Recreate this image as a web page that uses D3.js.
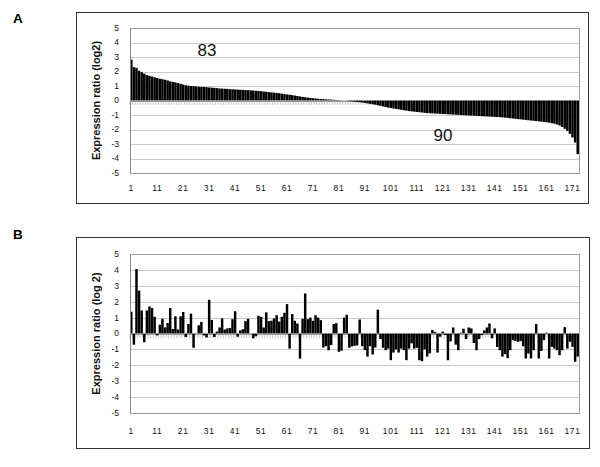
<!DOCTYPE html>
<html><head><meta charset="utf-8">
<script src="https://cdn.jsdelivr.net/npm/d3@7"></script>
<style>html,body{margin:0;padding:0;background:#fff;}svg{display:block;}</style>
</head><body>
<script>
const categories = d3.range(1, 174);
const xTickLabels = [1, 11, 21, 31, 41, 51, 61, 71, 81, 91, 101, 111, 121, 131, 141, 151, 161, 171];
const yTicks = [5, 4, 3, 2, 1, 0, -1, -2, -3, -4, -5];
const panelLabels = ["A", "B"];
const yTitles = ["Expression ratio (log2)", "Expression ratio  (log 2)"];
const countLabels = ["83", "90"];

const seriesA = [
  2.82,2.3,2.25,2.05,1.95,1.85,1.75,1.7,1.65,1.6,
  1.55,1.5,1.47,1.43,1.38,1.32,1.28,1.25,1.2,1.15,
  1.1,1.05,1.02,1.0,0.99,0.97,0.95,0.94,0.93,0.92,
  0.9,0.89,0.87,0.85,0.83,0.82,0.81,0.8,0.78,0.77,
  0.76,0.75,0.74,0.73,0.72,0.71,0.7,0.69,0.67,0.66,
  0.64,0.62,0.6,0.58,0.56,0.54,0.52,0.5,0.47,0.44,
  0.42,0.4,0.37,0.34,0.31,0.28,0.25,0.22,0.2,0.18,
  0.16,0.14,0.12,0.11,0.1,0.08,0.07,0.06,0.05,0.04,
  0.03,0.02,0.01,
  -0.02,-0.04,-0.06,-0.08,-0.1,-0.12,-0.14,-0.17,-0.2,-0.23,-0.26,-0.29,-0.33,-0.37,-0.41,-0.45,-0.49,
  -0.52,-0.55,-0.58,-0.61,-0.64,-0.67,-0.7,-0.73,-0.75,-0.77,
  -0.79,-0.81,-0.83,-0.85,-0.87,-0.88,-0.89,-0.9,-0.91,-0.92,
  -0.93,-0.94,-0.95,-0.96,-0.97,-0.98,-0.99,-1.0,-1.01,-1.02,
  -1.03,-1.04,-1.05,-1.06,-1.07,-1.08,-1.09,-1.1,-1.11,-1.12,
  -1.13,-1.14,-1.15,-1.16,-1.18,-1.2,-1.22,-1.24,-1.26,-1.28,
  -1.3,-1.32,-1.34,-1.36,-1.38,-1.4,-1.42,-1.44,-1.46,-1.48,
  -1.5,-1.53,-1.56,-1.6,-1.65,-1.72,-1.82,-1.95,-2.1,-2.3,
  -2.55,-2.9,-3.7
];

const seriesB = [
  1.37,-0.7,4.05,2.7,1.45,-0.55,1.45,1.7,1.6,1.05,
  -0.12,0.55,0.93,0.38,0.66,1.6,0.28,1.08,0.25,1.08,
  1.35,-0.22,0.6,1.25,-0.9,0.02,0.52,0.73,-0.12,-0.25,
  2.12,0.85,-0.22,0.12,0.38,0.95,0.25,0.32,0.35,0.9,
  1.4,-0.2,0.2,0.27,0.78,0.92,0.02,-0.3,-0.17,1.12,
  1.05,0.38,1.33,0.78,0.8,0.95,1.15,0.75,1.05,1.3,
  1.85,-0.95,1.22,0.8,0.63,-1.58,0.92,2.52,0.9,1.0,
  0.8,1.15,1.0,0.84,-0.88,-0.8,-1.05,-0.73,0.6,0.65,
  -1.15,-1.08,1.0,1.18,-0.9,-0.82,-0.78,-0.75,0.88,-0.8,
  -1.05,-1.45,-0.8,-1.32,-0.88,1.5,-0.35,-0.9,-1.05,-0.95,
  -1.68,-1.2,-1.0,-1.2,-0.95,-1.05,-1.68,-0.95,-0.62,-0.95,
  -0.9,-1.68,-1.74,-1.0,-1.45,-1.25,0.22,0.1,-1.2,-0.2,
  0.12,-0.1,-1.68,-0.5,0.38,-0.7,-1.05,0.05,0.3,-0.35,
  0.38,0.32,-0.6,-1.05,-0.35,-0.1,0.2,0.38,0.63,-0.3,
  0.32,-0.85,-1.05,-1.45,-1.3,-1.55,-1.05,-0.42,-0.46,-0.52,
  -0.48,-0.8,-1.57,-1.26,-1.57,-1.05,0.6,-1.57,-1.1,-0.42,
  0.05,-1.57,-0.84,-0.95,-1.05,-1.36,-1.05,0.4,-0.95,-0.52,
  -0.84,-1.78,-1.45
];

const W = 600, H = 467;
const svg = d3.select("body").append("svg").attr("width", W).attr("height", H);
const FONT = "'Liberation Sans', Arial, Helvetica, sans-serif";

const panels = [
  {data: seriesA, box: [76, 12, 588, 203], plot: [130, 28, 579, 173], label: [13, 23], titleX: 100,
   count: {x: 207, y: 56, text: countLabels[0]}, count2: {x: 443, y: 141, text: countLabels[1]}, xLabY: 191},
  {data: seriesB, box: [76, 237, 589, 448], plot: [130, 254, 579, 413], label: [13, 239], titleX: 100,
   count: null, count2: null, xLabY: 434}
];

panels.forEach((p, i) => {
  const g = svg.append("g");
  const [bx0, by0, bx1, by1] = p.box;
  const [px0, py0, px1, py1] = p.plot;

  g.append("rect").attr("x", bx0 + 0.5).attr("y", by0 + 0.5)
    .attr("width", bx1 - bx0).attr("height", by1 - by0)
    .attr("fill", "#fff").attr("stroke", "#333").attr("stroke-width", 1);

  const x = d3.scaleBand().domain(categories).range([px0, px1]).paddingInner(0.05).paddingOuter(0.02);
  const y = d3.scaleLinear().domain([-5, 5]).range([py1, py0]);

  g.append("g").selectAll("line").data(yTicks).join("line")
    .attr("x1", px0).attr("x2", px1)
    .attr("y1", d => Math.round(y(d)) + 0.5).attr("y2", d => Math.round(y(d)) + 0.5)
    .attr("stroke", "#c8c8c8").attr("stroke-width", 1);

  g.append("rect").attr("x", px0 + 0.5).attr("y", Math.round(py0) + 0.5)
    .attr("width", px1 - px0).attr("height", Math.round(py1) - Math.round(py0))
    .attr("fill", "none").attr("stroke", "#a0a0a0");

  const y0 = Math.round(y(0)) + 0.5;
  g.append("g").selectAll("line").data(categories).join("line")
    .attr("x1", d => x(d) - 0.2).attr("x2", d => x(d) - 0.2)
    .attr("y1", y0).attr("y2", y0 + 3.5)
    .attr("stroke", "#a5a5a5").attr("stroke-width", 0.6);
  g.append("line").attr("x1", px0).attr("x2", px1).attr("y1", y0).attr("y2", y0)
    .attr("stroke", "#9a9a9a");

  g.append("g").selectAll("rect").data(p.data.map((v, k) => ({c: categories[k], v})))
    .join("rect")
    .attr("x", d => x(d.c)).attr("width", x.bandwidth())
    .attr("y", d => y(Math.max(0, d.v)))
    .attr("height", d => Math.abs(y(d.v) - y(0)))
    .attr("fill", "#000");

  g.append("line").attr("x1", px0 + 0.5).attr("x2", px0 + 0.5).attr("y1", py0).attr("y2", py1)
    .attr("stroke", "#888");

  g.append("g").selectAll("text").data(yTicks).join("text")
    .attr("x", px0 - 11).attr("y", d => y(d)).attr("dy", "0.35em")
    .attr("text-anchor", "end").attr("font-family", FONT).attr("font-size", 8.5).attr("fill", "#111")
    .text(d => d);

  g.append("g").selectAll("text").data(xTickLabels).join("text")
    .attr("x", d => x(d) + x.bandwidth() / 2).attr("y", p.xLabY)
    .attr("text-anchor", "middle").attr("font-family", FONT).attr("font-size", 8.5).attr("fill", "#111")
    .attr("letter-spacing", 0.6)
    .text(d => d);

  const cy = (py0 + py1) / 2;
  g.append("text").attr("transform", `translate(${p.titleX},${cy}) rotate(-90)`)
    .attr("text-anchor", "middle").attr("font-family", FONT).attr("font-size", 11).attr("font-weight", "bold")
    .attr("fill", "#111")
    .text(yTitles[i]);

  svg.append("text").attr("x", p.label[0]).attr("y", p.label[1])
    .attr("font-family", FONT).attr("font-size", 13.5).attr("font-weight", "bold").attr("fill", "#000")
    .text(panelLabels[i]);

  [p.count, p.count2].filter(Boolean).forEach(c => {
    g.append("text").attr("x", c.x).attr("y", c.y).attr("text-anchor", "middle")
      .attr("font-family", FONT).attr("font-size", 17).attr("fill", "#111").text(c.text);
  });
});
</script>
</body></html>
